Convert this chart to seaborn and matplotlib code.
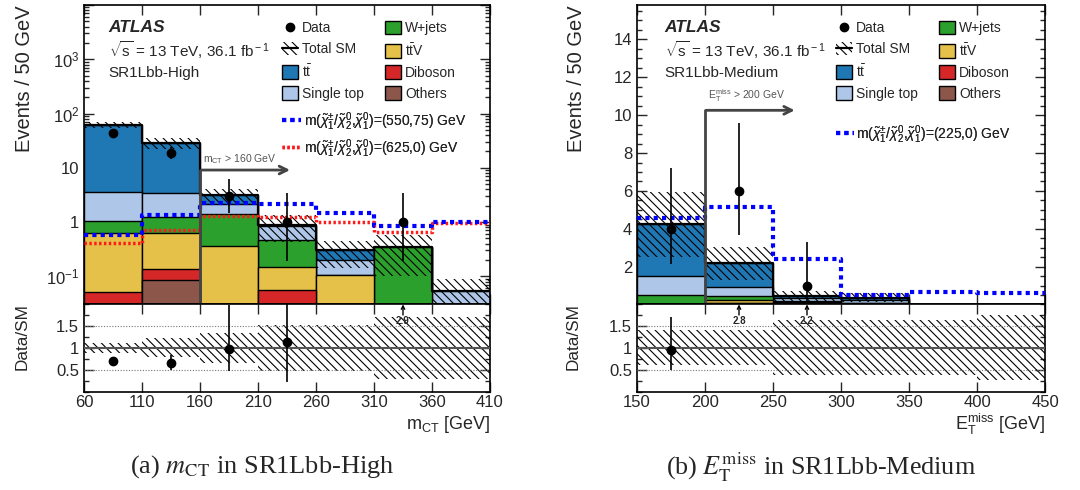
import numpy as np
import matplotlib
matplotlib.use("Agg")
import matplotlib.pyplot as plt
import seaborn as sns
from matplotlib.patches import Patch
from matplotlib.lines import Line2D
from matplotlib.ticker import FixedLocator, FixedFormatter, LogLocator, MultipleLocator, NullFormatter

nan = np.nan

# ==============================
# (a) m_CT in SR1Lbb-High
# ==============================
edges_a = [60, 110, 160, 210, 260, 310, 360, 410]
others_a = [0.0, 0.087, 0.0, 0.0, 0.0, 0.0, 0.0]
diboson_a = [0.051, 0.047, 0.0, 0.057, 0.0, 0.0, 0.0]
ttv_a = [0.58, 0.49, 0.36, 0.09, 0.107, 0.0, 0.0]
wjets_a = [0.42, 0.63, 1.03, 0.32, 0.0, 0.345, 0.0]
singletop_a = [2.55, 2.25, 0.76, 0.39, 0.093, 0.0, 0.053]
ttbar_a = [58.4, 25.5, 0.95, 0.02, 0.10, 0.0, 0.0]
syst_a = [0.11, 0.22, 0.34, 0.52, 0.52, 0.70, 0.70]
data_a = [43, 19, 3, 1, nan, 1, nan]
data_hi_a = [49.6, 24.5, 6.1, 3.4, nan, 3.4, nan]
data_lo_a = [36.7, 14.4, 1.45, 0.19, nan, 0.19, nan]
sig1_a = [0.575, 1.35, 2.27, 2.15, 1.45, 0.84, 1.01]
sig2_a = [0.42, 0.71, 1.29, 1.25, 1.01, 0.65, 0.95]

# ==============================
# (b) ETmiss in SR1Lbb-Medium
# ==============================
edges_b = [150, 200, 250, 300, 350, 400, 450]
others_b = [0.0, 0.09, 0.02, 0.0, 0.0, 0.0]
diboson_b = [0.0, 0.0, 0.0, 0.0, 0.0, 0.0]
ttv_b = [0.02, 0.14, 0.13, 0.12, 0.0, 0.0]
wjets_b = [0.48, 0.21, 0.05, 0.0, 0.0, 0.0]
singletop_b = [1.01, 0.50, 0.18, 0.15, 0.0, 0.0]
ttbar_b = [2.73, 1.24, 0.07, 0.10, 0.0, 0.0]
syst_b = [0.40, 0.40, 0.62, 0.62, 0.62, 0.74]
data_b = [4, 6, 1, nan, nan, nan]
data_hi_b = [7.2, 9.6, 3.3, nan, nan, nan]
data_lo_b = [2.15, 3.67, 0.17, nan, nan, nan]
sig_b = [4.6, 5.15, 2.44, 0.5, 0.68, 0.64]

# stack order bottom -> top
proc_names = ["Others", "Diboson", "ttV", "W+jets", "Single top", "ttbar"]
proc_colors = ["#8c564b", "#d62728", "#e5c14a", "#2ca02c", "#aec7e8", "#1f77b4"]
HATCH = "\\\\\\\\"

sns.set_style("ticks")
plt.rcParams["font.family"] = ["Liberation Sans", "DejaVu Sans"]
plt.rcParams["mathtext.fontset"] = "custom"
plt.rcParams["mathtext.rm"] = "Liberation Sans"
plt.rcParams["mathtext.it"] = "Liberation Sans:italic"
plt.rcParams["mathtext.bf"] = "Liberation Sans:bold"
plt.rcParams["hatch.linewidth"] = 0.8
plt.rcParams["hatch.color"] = "black"

W, H = 1080, 490
fig = plt.figure(figsize=(W / 100, H / 100), dpi=100)


def fx(px):
    return px / W


def fy(py):
    return 1 - py / H


def make_axes(x0, x1, top=5, mid=303.5, bot=392):
    ax = fig.add_axes([fx(x0), fy(mid), fx(x1 - x0), (mid - top) / H])
    rax = fig.add_axes([fx(x0), fy(bot), fx(x1 - x0), (bot - mid) / H])
    return ax, rax


def style_ticks(a):
    a.tick_params(which="both", direction="in", top=True, right=True, labelsize=12, width=1)
    a.tick_params(which="major", length=7)
    a.tick_params(which="minor", length=3.5)
    for s in a.spines.values():
        s.set_linewidth(1.2)
        s.set_color("black")


def draw_panel(ax, rax, edges, comps, syst, data, hi, lo, signals):
    bins = list(edges)
    edges = np.array(edges, float)
    centers = (edges[:-1] + edges[1:]) / 2
    widths = np.diff(edges)
    comps = np.array(comps, float)
    cum = np.cumsum(comps, axis=0)
    total = cum[-1]

    # stacked backgrounds: draw cumulative layers from the top down
    for i in reversed(range(len(comps))):
        sns.histplot(x=centers, weights=cum[i], bins=bins, element="bars", fill=True,
                     color=proc_colors[i], edgecolor="black", linewidth=1, alpha=1, ax=ax)
    # thicker total line
    sns.histplot(x=centers, weights=total, bins=bins, element="step", fill=False,
                 color="black", linewidth=1.6, ax=ax)

    # total uncertainty band
    err = total * np.array(syst)
    ax.bar(centers, 2 * err, bottom=total - err, width=widths, facecolor="none",
           edgecolor="black", linewidth=0, hatch=HATCH, zorder=3)

    # signals
    for vals, col, ls, lw in signals:
        sns.histplot(x=centers, weights=vals, bins=bins, element="step", fill=False,
                     color=col, linewidth=lw, linestyle=ls, ax=ax, zorder=4)

    # data
    data = np.array(data, float)
    hi = np.array(hi, float)
    lo = np.array(lo, float)
    ax.errorbar(centers, data, yerr=[data - lo, hi - data], fmt="o", color="black",
                ms=6, elinewidth=1.2, capsize=0, zorder=6)

    ax.set_xlim(edges[0], edges[-1])
    ax.set_xlabel("")
    ax.set_ylabel("")
    ax.set_xticks(edges)
    ax.tick_params(labelbottom=False)

    # ratio panel
    s = np.array(syst)
    rax.bar(centers, 2 * s, bottom=1 - s, width=widths, facecolor="none",
            edgecolor="black", linewidth=0, hatch=HATCH, zorder=2)
    rax.axhline(1, color="#555555", lw=1.5, zorder=3)
    for yv in (0.5, 1.5):
        rax.axhline(yv, color="#777777", lw=0.8, ls=(0, (1, 1.5)), zorder=3)
    ratio = data / total
    rhi = hi / total
    rlo = lo / total
    inside = ratio <= 2
    rax.errorbar(centers[inside], ratio[inside],
                 yerr=[(ratio - rlo)[inside], (rhi - ratio)[inside]],
                 fmt="o", color="black", ms=6, elinewidth=1.2, capsize=0, zorder=6)
    for c, r in zip(centers, ratio):
        if np.isfinite(r) and r > 2:
            rax.annotate("", xy=(c, 1.98), xytext=(c, 1.74),
                         arrowprops=dict(arrowstyle="->", lw=1, color="black", mutation_scale=6,
                                         shrinkA=0, shrinkB=0))
            rax.text(c, 1.6, f"{r:.1f}", ha="center", va="center", fontsize=7, fontweight="bold")
    rax.set_xlim(edges[0], edges[-1])
    rax.set_ylim(0, 2)
    rax.set_xticks(edges)
    rax.set_xticklabels([f"{e:g}" for e in edges])
    rax.yaxis.set_major_locator(FixedLocator([0.5, 1, 1.5]))
    rax.yaxis.set_major_formatter(FixedFormatter(["0.5", "1", "1.5"]))
    rax.yaxis.set_minor_locator(MultipleLocator(0.25))
    style_ticks(ax)
    style_ticks(rax)
    rax.tick_params(axis="x", pad=2)


def legends(ax, x1, x2, ytop, sig_entries, sig_labels, sig_y, sig_handle_len):
    h1 = [Line2D([], [], marker="o", color="black", ls="none", ms=6),
          (Patch(facecolor="white", edgecolor="black", hatch=HATCH, lw=0),
           Line2D([], [], color="black", lw=1.6)),
          Patch(facecolor=proc_colors[5], edgecolor="black", lw=1),
          Patch(facecolor=proc_colors[4], edgecolor="black", lw=1)]
    l1 = ["Data", "Total SM", r"t$\bar{\rm t}$", "Single top"]
    h2 = [Patch(facecolor=proc_colors[i], edgecolor="black", lw=1) for i in (3, 2, 1, 0)]
    l2 = ["W+jets", r"t$\bar{\rm t}$V", "Diboson", "Others"]
    common = dict(loc="upper left", bbox_transform=fig.transFigure, frameon=False, fontsize=10,
                  handlelength=1.15, handleheight=1.1, handletextpad=0.3, labelspacing=0.48,
                  borderpad=0, borderaxespad=0)
    lg1 = ax.legend(h1, l1, bbox_to_anchor=(fx(x1), fy(ytop)), **common)
    ax.add_artist(lg1)
    lg2 = ax.legend(h2, l2, bbox_to_anchor=(fx(x2), fy(ytop)), **common)
    ax.add_artist(lg2)
    hs = [Line2D([], [], color=c, lw=lw, ls=ls) for c, ls, lw in sig_entries]
    common_s = dict(common)
    common_s.update(handlelength=sig_handle_len, labelspacing=0.35, handletextpad=0.15)
    lg3 = ax.legend(hs, sig_labels, bbox_to_anchor=(fx(x1), fy(sig_y)), **common_s)
    ax.add_artist(lg3)


sig_label_1 = r"m($\tilde{\chi}^{\pm}_{1}$/$\tilde{\chi}^{0}_{2}$,$\tilde{\chi}^{0}_{1}$)=(550,75) GeV"
sig_label_2 = r"m($\tilde{\chi}^{\pm}_{1}$/$\tilde{\chi}^{0}_{2}$,$\tilde{\chi}^{0}_{1}$)=(625,0) GeV"
sig_label_b = r"m($\tilde{\chi}^{\pm}_{1}$/$\tilde{\chi}^{0}_{2}$,$\tilde{\chi}^{0}_{1}$)=(225,0) GeV"
BLUE_LS = (0, (1, 1))
RED_LS = (0, (0.7, 0.7))

# ---------------- left panel ----------------
ax_a, rax_a = make_axes(84, 490)
draw_panel(ax_a, rax_a, edges_a,
           [others_a, diboson_a, ttv_a, wjets_a, singletop_a, ttbar_a],
           syst_a, data_a, data_hi_a, data_lo_a,
           [(sig2_a, "#ff1a1a", RED_LS, 2.5), (sig1_a, "#0000ff", BLUE_LS, 3)])
ax_a.set_yscale("log")
ax_a.set_ylim(10 ** -1.5, 1e4)
ax_a.yaxis.set_major_locator(FixedLocator([0.1, 1, 10, 100, 1000, 10000]))
ax_a.yaxis.set_major_formatter(FixedFormatter([r"$10^{-1}$", "1", "10", r"$10^{2}$", r"$10^{3}$", ""]))
ax_a.yaxis.set_minor_locator(LogLocator(base=10, subs=np.arange(2, 10), numticks=20))
ax_a.yaxis.set_minor_formatter(NullFormatter())

cut_a = 160
ax_a.plot([cut_a, cut_a], [10 ** -1.5, 9.1], color="#444444", lw=2, zorder=7)
ax_a.annotate("", xy=(240, 9.1), xytext=(cut_a - 1, 9.1),
              arrowprops=dict(arrowstyle="->", lw=2, color="#444444", mutation_scale=14), zorder=7)
ax_a.text(cut_a + 3, 10.8, r"m$_{\rm CT}$ > 160 GeV", fontsize=7.5, color="#555555", va="bottom")

legends(ax_a, 282, 385, 21,
        [("#0000ff", BLUE_LS, 3), ("#ff1a1a", RED_LS, 2.5)],
        [sig_label_1, sig_label_2], 110, 1.4)

# ---------------- right panel ----------------
ax_b, rax_b = make_axes(637, 1045)
draw_panel(ax_b, rax_b, edges_b,
           [others_b, diboson_b, ttv_b, wjets_b, singletop_b, ttbar_b],
           syst_b, data_b, data_hi_b, data_lo_b,
           [(sig_b, "#0000ff", BLUE_LS, 3)])
ax_b.set_ylim(0.07, 15.8)
ax_b.yaxis.set_major_locator(FixedLocator([2, 4, 6, 8, 10, 12, 14]))
ax_b.yaxis.set_minor_locator(MultipleLocator(0.5))

cut_b = 200
ax_b.plot([cut_b, cut_b], [0, 10.25], color="#444444", lw=2, zorder=7)
ax_b.annotate("", xy=(268, 10.25), xytext=(cut_b - 1, 10.25),
              arrowprops=dict(arrowstyle="->", lw=2, color="#444444", mutation_scale=14), zorder=7)
ax_b.text(cut_b + 2, 10.6, r"E$_{\rm T}^{\rm miss}$ > 200 GeV", fontsize=7.5, color="#555555", va="bottom")

legends(ax_b, 836, 939, 21,
        [("#0000ff", BLUE_LS, 3)], [sig_label_b], 123, 1.3)

# ---------------- texts ----------------
for x0, region in ((108, "SR1Lbb-High"), (664, "SR1Lbb-Medium")):
    fig.text(fx(x0), fy(28), "ATLAS", fontsize=12.5, fontweight="bold", fontstyle="italic", va="center")
    fig.text(fx(x0 + 1), fy(50), r"$\sqrt{\rm s}$ = 13 TeV, 36.1 fb$^{\rm -1}$", fontsize=11, va="center")
    fig.text(fx(x0), fy(73), region, fontsize=11, va="center")

for x0 in (25, 576):
    fig.text(fx(x0), fy(5), "Events / 50 GeV", rotation=90, ha="center", va="top", fontsize=14.5)
    fig.text(fx(x0 - 3), fy(303), "Data/SM", rotation=90, ha="center", va="top", fontsize=12.3)

fig.text(fx(490), fy(424), r"m$_{\rm CT}$ [GeV]", ha="right", va="center", fontsize=13)
fig.text(fx(1045), fy(424), r"E$_{\rm T}^{\rm miss}$ [GeV]", ha="right", va="center", fontsize=13)

fig.text(fx(262), fy(467), r"(a) $m_{\rm CT}$ in SR1Lbb-High", ha="center", va="center",
         fontsize=19, family="Liberation Serif", math_fontfamily="stix")
fig.text(fx(821), fy(467), r"(b) $E_{\rm T}^{\rm miss}$ in SR1Lbb-Medium", ha="center", va="center",
         fontsize=18.8, family="Liberation Serif", math_fontfamily="stix")

fig.savefig("out.png", dpi=100)
